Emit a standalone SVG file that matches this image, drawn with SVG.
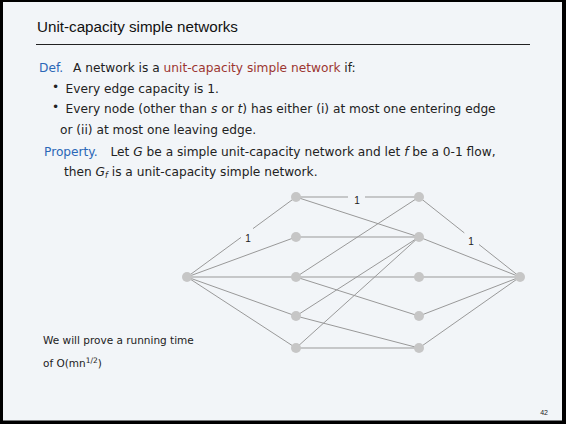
<svg xmlns="http://www.w3.org/2000/svg" width="566" height="424" viewBox="0 0 566 424">
  <style>
    .body { font-family: "DejaVu Sans", "Liberation Sans", sans-serif; font-size: 12.2px; fill: #222; }
    .kw { fill: #2b67b7; }
    .hl { fill: #9c3631; }
    .it { font-style: italic; }
    .title { font-family: "Liberation Sans", Arial, sans-serif; font-size: 15.2px; fill: #111; }
    .note { font-family: "DejaVu Sans", "Liberation Sans", sans-serif; font-size: 10.5px; fill: #222; }
    .cap { font-family: "Liberation Sans", Arial, sans-serif; font-size: 10px; fill: #222; text-anchor: middle; }
    .edge { stroke: #999; stroke-width: 1; fill: none; }
    .node { fill: #c6c6c6; }
  </style>

  <!-- slide frame -->
  <rect x="0" y="0" width="566" height="424" fill="#000"/>
  <rect x="3" y="2" width="559" height="418.5" fill="#f2f5f8"/>

  <!-- heading -->
  <text class="title" x="37" y="32">Unit-capacity simple networks</text>
  <line x1="36" y1="44.5" x2="530" y2="44.5" stroke="#222" stroke-width="1.2"/>

  <!-- definition -->
  <text class="body" y="72"><tspan class="kw" x="39">Def.</tspan><tspan x="73">A network is a </tspan><tspan class="hl">unit-capacity simple network</tspan><tspan> if:</tspan></text>
  <text class="body" x="52" y="90.5" font-size="10">•</text>
  <text class="body" x="65.5" y="92.5">Every edge capacity is 1.</text>
  <text class="body" x="52" y="111" font-size="10">•</text>
  <text class="body" x="65.5" y="113">Every node (other than <tspan class="it">s</tspan> or <tspan class="it">t</tspan>) has either (i) at most one entering edge</text>
  <text class="body" x="60" y="133.5">or (ii) at most one leaving edge.</text>

  <!-- property -->
  <text class="body" y="155.5"><tspan class="kw" x="44">Property.</tspan><tspan x="110.5">Let </tspan><tspan class="it">G</tspan><tspan> be a simple unit-capacity network and let </tspan><tspan class="it">f</tspan><tspan> be a 0-1 flow,</tspan></text>
  <text class="body" x="64" y="176">then <tspan class="it">G</tspan><tspan class="it" font-size="8" dy="2">f</tspan><tspan dy="-2"> is a unit-capacity simple network.</tspan></text>

  <!-- connectors -->
  <g id="edges">
    <!-- source to first layer -->
    <line class="edge" x1="187" y1="277" x2="241" y2="237.4"/>
    <line class="edge" x1="253" y1="228.6" x2="296" y2="197"/>
    <line class="edge" x1="187" y1="277" x2="296" y2="237"/>
    <line class="edge" x1="187" y1="277" x2="296" y2="277"/>
    <line class="edge" x1="187" y1="277" x2="296" y2="316"/>
    <line class="edge" x1="187" y1="277" x2="296" y2="348"/>
    <!-- first layer to second layer -->
    <line class="edge" x1="296" y1="197" x2="348" y2="197"/>
    <line class="edge" x1="365" y1="197" x2="419" y2="197"/>
    <line class="edge" x1="296" y1="197" x2="419" y2="237"/>
    <line class="edge" x1="296" y1="237" x2="419" y2="237"/>
    <line class="edge" x1="296" y1="277" x2="419" y2="197"/>
    <line class="edge" x1="296" y1="277" x2="419" y2="277"/>
    <line class="edge" x1="296" y1="277" x2="419" y2="316"/>
    <line class="edge" x1="296" y1="316" x2="419" y2="237"/>
    <line class="edge" x1="296" y1="316" x2="419" y2="348"/>
    <line class="edge" x1="296" y1="348" x2="419" y2="237"/>
    <line class="edge" x1="296" y1="348" x2="419" y2="348"/>
    <!-- second layer to sink -->
    <line class="edge" x1="419" y1="197" x2="464.3" y2="232.9"/>
    <line class="edge" x1="479" y1="244.5" x2="520" y2="277"/>
    <line class="edge" x1="419" y1="237" x2="520" y2="277"/>
    <line class="edge" x1="419" y1="277" x2="520" y2="277"/>
    <line class="edge" x1="419" y1="316" x2="520" y2="277"/>
    <line class="edge" x1="419" y1="348" x2="520" y2="277"/>
    <!-- capacity labels -->
    <text class="cap" x="248" y="241.5">1</text>
    <text class="cap" x="357" y="204">1</text>
    <text class="cap" x="471" y="245">1</text>
  </g>

  <!-- nodes -->
  <g id="s"><circle class="node" cx="187" cy="277" r="5"/></g>
  <g id="a1"><circle class="node" cx="296" cy="197" r="5"/></g>
  <g id="a2"><circle class="node" cx="296" cy="237" r="5"/></g>
  <g id="a3"><circle class="node" cx="296" cy="277" r="5"/></g>
  <g id="a4"><circle class="node" cx="296" cy="316" r="5"/></g>
  <g id="a5"><circle class="node" cx="296" cy="348" r="5"/></g>
  <g id="b1"><circle class="node" cx="419" cy="197" r="5"/></g>
  <g id="b2"><circle class="node" cx="419" cy="237" r="5"/></g>
  <g id="b3"><circle class="node" cx="419" cy="277" r="5"/></g>
  <g id="b4"><circle class="node" cx="419" cy="316" r="5"/></g>
  <g id="b5"><circle class="node" cx="419" cy="348" r="5"/></g>
  <g id="t"><circle class="node" cx="520" cy="277" r="5"/></g>

  <!-- running-time note -->
  <text class="note" x="43" y="344">We will prove a running time</text>
  <text class="note" x="43" y="367">of O(mn<tspan font-size="7.5" dy="-4">1/2</tspan><tspan dy="4">)</tspan></text>

  <!-- page number -->
  <text x="548" y="414.5" font-family="Liberation Sans, Arial, sans-serif" font-size="7" fill="#222" text-anchor="end">42</text>
</svg>
